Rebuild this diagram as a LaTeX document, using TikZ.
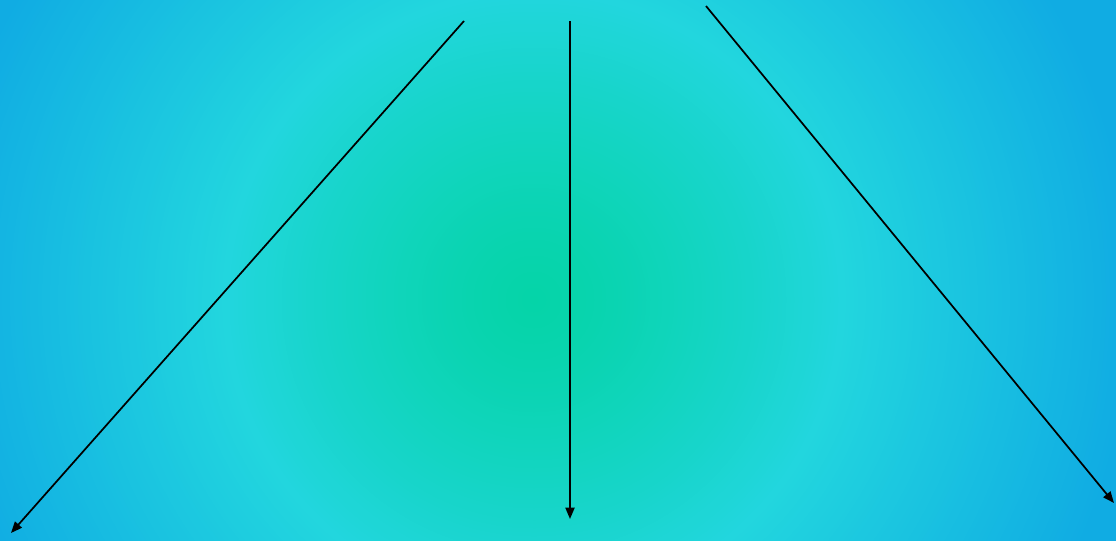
\documentclass[tikz,border=0pt]{standalone}
\usetikzlibrary{arrows.meta}
\definecolor{cgreen}{HTML}{05D4A8}
\definecolor{ccyan}{HTML}{22D6DE}
\definecolor{cblue}{HTML}{10ACE3}
\tikzset{
  flow/.style={line width=1.3pt, -{Triangle[length=8.5pt,width=6.8pt]}}
}
\begin{document}
\begin{tikzpicture}[x=0.75pt,y=-0.75pt]
\useasboundingbox (0,0) rectangle (1116,540);
\fill[cblue] (0,0) rectangle (1116,540);
\begin{scope}
\clip (0,0) rectangle (1116,540);
\foreach \r in {660,656,...,4} {
  \pgfmathsetmacro\pa{min(100,max(0,(\r-310)/290*100))}
  \pgfmathsetmacro\pb{min(100,max(0,(\r/310)^1.3*100))}
  \ifdim\r pt>310pt
    \colorlet{ring}{cblue!\pa!ccyan}
  \else
    \colorlet{ring}{ccyan!\pb!cgreen}
  \fi
  \fill[ring] (534,300) circle ({\r*0.75pt});
}
\end{scope}
\coordinate (s1) at (464,21);
\coordinate (e1) at (11,533);
\coordinate (s2) at (570,21);
\coordinate (e2) at (570,519);
\coordinate (s3) at (706,6);
\coordinate (e3) at (1114,503);
\draw[flow] (s1) -- (e1);
\draw[flow] (s2) -- (e2);
\draw[flow] (s3) -- (e3);
\end{tikzpicture}
\end{document}
